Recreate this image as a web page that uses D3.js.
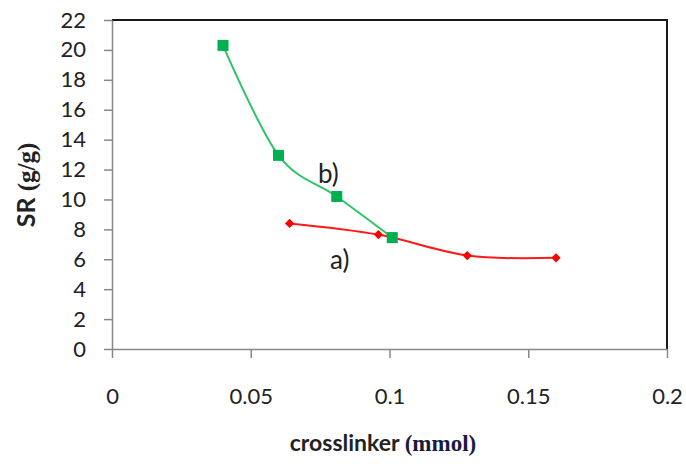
<!DOCTYPE html>
<html>
<head>
<meta charset="utf-8">
<script src="https://cdn.jsdelivr.net/npm/d3@7"></script>
<style>
  html, body { margin: 0; padding: 0; background: #fff; }
  svg { display: block; }
</style>
</head>
<body>
<svg id="chart" width="686" height="464"></svg>
<script>
// Swelling ratio vs. crosslinker amount
const xTicks = [0, 0.05, 0.1, 0.15, 0.2];
const xTickLabels = ["0", "0.05", "0.1", "0.15", "0.2"];
const yTicks = [0, 2, 4, 6, 8, 10, 12, 14, 16, 18, 20, 22];

const seriesA_x = [0.064, 0.096, 0.128, 0.16];
const seriesA_y = [8.4, 7.65, 6.25, 6.1];
const seriesB_x = [0.04, 0.06, 0.081, 0.101];
const seriesB_y = [20.3, 12.95, 10.2, 7.45];

const labelA = "a)";
const labelB = "b)";

const svg = d3.select("#chart");
const plotL = 112, plotR = 667, plotT = 20, plotB = 349;

const x = d3.scaleLinear().domain([0, 0.2]).range([plotL, plotR]);
const y = d3.scaleLinear().domain([0, 22]).range([plotB, plotT]);

const tickFont = "Lato, 'Open Sans', sans-serif";

// plot frame (top and right edges)
svg.append("path")
  .attr("d", `M${plotL},${plotT}H${plotR}V${plotB}`)
  .attr("fill", "none").attr("stroke", "#1a1a1a").attr("stroke-width", 2);

// y axis
const yAxis = svg.append("g").attr("transform", `translate(${plotL},0)`)
  .call(d3.axisLeft(y).tickValues(yTicks).tickSize(8).tickSizeOuter(0).tickPadding(18).tickFormat(d3.format("d")));
yAxis.select(".domain").attr("stroke", "#888").attr("stroke-width", 1.5);
yAxis.selectAll(".tick line").attr("stroke", "#888").attr("stroke-width", 1.5);
yAxis.selectAll(".tick text").attr("font-family", tickFont).attr("font-size", 22).attr("fill", "#222");

// x axis
const xAxis = svg.append("g").attr("transform", `translate(0,${plotB})`)
  .call(d3.axisBottom(x).tickValues(xTicks).tickSize(9).tickSizeOuter(0).tickPadding(30)
    .tickFormat((d, i) => xTickLabels[i]));
xAxis.select(".domain").attr("stroke", "#888").attr("stroke-width", 1.5);
xAxis.selectAll(".tick line").attr("stroke", "#888").attr("stroke-width", 1.5);
xAxis.selectAll(".tick text").attr("font-family", tickFont).attr("font-size", 22).attr("fill", "#222");

// axis titles
const xt = svg.append("text").attr("x", 383).attr("y", 451).attr("text-anchor", "middle")
  .attr("font-weight", "bold").attr("font-size", 23).attr("fill", "#222");
xt.append("tspan").attr("font-family", tickFont).text("crosslinker ");
xt.append("tspan").attr("font-family", "'Liberation Serif', serif").attr("fill", "#1b1b40").text("(mmol)");

const yt = svg.append("text").attr("transform", "translate(35,185) rotate(-90)").attr("text-anchor", "middle")
  .attr("font-weight", "bold").attr("font-size", 25).attr("fill", "#222");
yt.append("tspan").attr("font-family", tickFont).text("SR ");
yt.append("tspan").attr("font-family", "'Liberation Serif', serif").text("(g/g)");

const line = d3.line().x(d => x(d[0])).y(d => y(d[1])).curve(d3.curveCardinal.tension(0));

const ptsA = seriesA_x.map((v, i) => [v, seriesA_y[i]]);
const ptsB = seriesB_x.map((v, i) => [v, seriesB_y[i]]);

// series a (red, diamonds)
svg.append("path").datum(ptsA).attr("d", line)
  .attr("fill", "none").attr("stroke", "#ff1a1a").attr("stroke-width", 2);
svg.selectAll(".ma").data(ptsA).enter().append("path")
  .attr("d", d3.symbol().type(d3.symbolDiamond2).size(55))
  .attr("transform", d => `translate(${x(d[0])},${y(d[1])})`)
  .attr("fill", "#ff0000");

// series b (green, squares)
svg.append("path").datum(ptsB).attr("d", line)
  .attr("fill", "none").attr("stroke", "#2ec46a").attr("stroke-width", 2);
svg.selectAll(".mb").data(ptsB).enter().append("rect")
  .attr("x", d => x(d[0]) - 5.5).attr("y", d => y(d[1]) - 5.5)
  .attr("width", 11).attr("height", 11).attr("fill", "#00b050");

// series labels
svg.append("text").attr("x", 318).attr("y", 183).attr("font-family", tickFont)
  .attr("font-size", 26).attr("fill", "#222").text(labelB);
svg.append("text").attr("x", 330).attr("y", 269).attr("font-family", tickFont)
  .attr("font-size", 26).attr("fill", "#222").text(labelA);
</script>
</body>
</html>
